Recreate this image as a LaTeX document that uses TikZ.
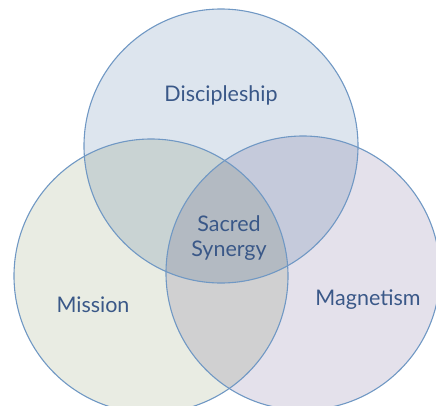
\documentclass[tikz,border=0pt]{standalone}
\usepackage{fontspec}
\setmainfont{Lato}
\definecolor{ringblue}{RGB}{112,152,196}
\definecolor{textblue}{RGB}{58,88,136}
\definecolor{topfill}{RGB}{221,229,238}
\definecolor{leftfill}{RGB}{233,236,227}
\definecolor{rightfill}{RGB}{228,225,235}
\tikzset{
    ring/.style={draw=ringblue,line width=1.1pt},
    lbl/.style={text=textblue,font=\fontsize{21.5}{25}\selectfont,align=center}
}
\begin{document}
\begin{tikzpicture}[x=1pt,y=-1pt]
        \useasboundingbox (0,0) rectangle (436,405);
        \begin{scope}[blend group=multiply]
        \foreach \x/\y/\c in {
        221/146/topfill,
        151/276/leftfill,
        303/273/rightfill}{
            \fill[\c](\x,\y) circle(137);
        }
        \end{scope}
        \foreach \x/\y in {221/146,151/276,303/273}{
            \draw[ring](\x,\y) circle(137);
        }
        \node[lbl] (disc) at (221,95) {Discipleship};
        \node[lbl] (miss) at (93,305) {Mission};
        \node[lbl] (magn) at (368,300) {Magnetism};
        \node[lbl,font=\fontsize{21.5}{25}\selectfont] (syn) at (229,238) {Sacred\\Synergy};
    \end{tikzpicture}
\end{document}
